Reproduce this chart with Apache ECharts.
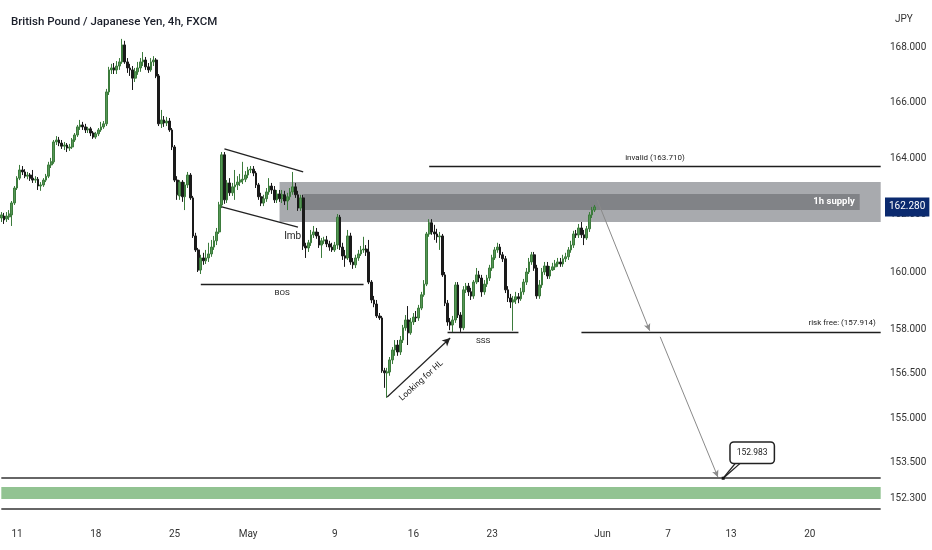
<!DOCTYPE html>
<html><head><meta charset="utf-8">
<script src="https://cdn.jsdelivr.net/npm/echarts@6/dist/echarts.min.js"></script>
<style>html,body{margin:0;padding:0;background:#fff}#c{width:932px;height:550px}</style>
</head><body><div id="c"></div>
<script>
const FONT = "Roboto, 'Liberation Sans', sans-serif";

// 4h candles: [open, close, low, high]
const candles = [
[161.89,162.00,161.75,162.10],[161.96,161.82,161.68,162.07],[161.86,161.96,161.75,162.10],[161.93,162.03,161.82,162.17],
[162.00,162.42,161.61,162.49],[162.42,162.95,162.35,163.02],[162.95,163.30,162.88,163.37],[163.30,163.59,163.23,163.77],
[163.59,163.52,163.41,163.73],[163.52,163.37,163.30,163.62],[163.37,163.41,163.26,163.52],[163.41,163.30,163.20,163.48],
[163.30,163.23,163.13,163.59],[163.23,163.26,163.13,163.37],[163.26,163.02,162.88,163.34],[163.02,163.06,162.85,163.16],
[163.06,163.23,162.99,163.30],[163.23,163.37,163.16,163.45],[163.37,163.77,163.30,163.88],[163.77,163.88,163.66,164.02],
[163.88,164.59,163.81,164.66],[164.59,164.66,164.48,164.80],[164.66,164.55,164.44,164.77],[164.55,164.44,164.34,164.66],
[164.44,164.48,164.30,164.59],[164.48,164.37,164.23,164.55],[164.37,164.41,164.27,164.52],[164.41,164.66,164.34,164.73],
[164.66,164.84,164.59,164.91],[164.84,165.13,164.77,165.20],[165.13,165.20,165.02,165.38],[165.20,165.13,165.02,165.31],
[165.13,165.02,164.91,165.24],[165.02,165.06,164.91,165.13],[165.06,164.91,164.80,165.13],[164.91,164.77,164.70,164.98],
[164.77,164.88,164.70,164.95],[164.88,165.02,164.80,165.09],[165.02,165.13,164.95,165.31],[165.13,165.24,165.06,165.34],
[165.24,166.39,165.16,166.50],[166.39,167.19,166.28,167.30],[167.19,167.26,167.04,167.41],[167.26,167.19,167.04,167.44],
[167.19,167.33,167.04,167.51],[167.33,167.48,167.19,167.62],[167.48,168.10,167.41,168.32],[168.10,167.48,167.41,168.25],
[167.48,167.26,167.08,167.62],[167.26,167.19,166.97,167.41],[167.19,166.89,166.46,167.33],[166.89,167.12,166.75,167.26],
[167.12,167.26,167.01,167.48],[167.26,167.48,167.12,167.62],[167.48,167.55,167.33,167.84],[167.55,167.30,167.19,167.66],
[167.30,167.19,167.08,167.44],[167.19,167.48,167.12,167.62],[167.48,167.55,167.33,167.69],[167.55,166.97,166.89,167.62],
[166.97,165.24,165.16,167.04],[165.24,165.38,165.09,165.74],[165.38,165.27,165.13,165.52],[165.27,165.34,165.16,165.49],
[165.34,165.02,164.95,165.45],[165.02,164.41,164.30,165.09],[164.41,163.23,163.16,164.48],[163.23,162.71,162.53,163.37],
[162.67,163.16,162.53,163.23],[163.16,162.64,162.46,163.23],[162.64,163.06,162.17,163.16],[163.06,163.41,162.95,163.52],
[163.41,162.60,162.53,163.48],[162.60,161.26,161.19,162.67],[161.26,160.77,160.70,161.37],[160.77,160.07,160.00,160.84],
[160.07,160.49,159.93,160.60],[160.49,160.39,160.25,160.67],[160.39,160.49,160.28,160.77],[160.49,160.63,160.35,161.02],
[160.63,160.87,160.53,161.12],[160.87,161.09,160.77,161.26],[161.09,161.40,160.94,161.54],[161.40,162.35,161.33,162.46],
[162.35,164.13,162.24,164.23],[164.13,162.53,162.39,164.23],[162.53,163.13,162.42,163.23],[163.13,162.78,162.67,163.30],
[162.78,162.99,162.67,163.13],[162.99,163.06,162.53,163.59],[163.06,163.16,162.88,163.37],[163.16,163.23,163.02,163.45],
[163.23,163.26,163.09,163.88],[163.26,163.41,163.16,163.55],[163.41,163.59,163.30,163.70],[163.59,163.62,163.48,163.73],
[163.62,163.48,163.37,163.73],[163.48,163.06,162.95,163.55],[163.06,162.64,162.53,163.13],[162.64,162.42,162.31,162.78],
[162.42,162.57,162.31,162.71],[162.57,162.81,162.46,162.95],[162.81,163.02,162.71,163.30],[163.02,162.88,162.74,163.13],
[162.88,162.53,162.42,163.02],[162.53,162.74,162.42,162.88],[162.74,162.57,162.46,162.88],[162.57,162.71,162.42,162.88],
[162.71,162.49,162.35,162.85],[162.49,162.64,162.17,162.78],[162.64,162.81,162.53,162.95],[162.81,162.99,162.71,163.52],
[162.99,162.71,162.60,163.13],[162.71,162.24,162.14,162.85],[162.24,162.60,162.14,162.71],[162.60,160.91,160.77,162.71],
[160.91,160.84,160.49,161.02],[160.84,161.02,160.70,161.12],[161.02,161.30,160.91,161.47],[161.30,161.40,161.19,161.61],
[161.40,161.26,161.16,161.54],[161.26,160.94,160.84,161.40],[160.94,161.09,160.49,161.19],[161.09,161.12,160.98,161.23],
[161.12,160.98,160.87,161.26],[160.98,160.87,160.74,161.09],[160.87,160.77,160.70,161.02],[160.77,160.94,160.70,161.05],
[160.94,161.92,160.80,162.03],[161.92,160.87,160.77,162.00],[160.87,160.56,160.42,161.02],[160.56,160.49,160.18,160.77],
[160.49,161.26,160.42,161.47],[161.26,160.35,160.25,161.37],[160.35,160.25,160.11,160.49],[160.25,160.49,160.14,160.60],
[160.49,160.63,160.39,160.77],[160.63,160.77,160.56,160.91],[160.77,160.80,160.67,161.23],[160.80,160.70,160.56,160.94],
[160.70,159.65,159.58,161.12],[159.65,159.03,158.92,159.72],[159.03,158.89,158.78,159.17],[158.89,158.48,158.41,159.03],
[158.48,158.41,158.34,158.58],[158.41,156.60,156.53,158.48],[156.60,156.53,156.02,156.70],[156.53,156.56,155.68,156.70],
[156.56,156.97,156.43,157.07],[156.97,157.31,156.83,157.41],[157.31,157.48,157.11,157.65],[157.48,157.24,157.11,157.65],
[157.24,157.65,157.14,157.79],[157.65,158.07,157.55,158.17],[158.07,158.34,157.97,158.51],[158.34,157.90,157.48,158.82],
[157.90,158.27,157.83,158.41],[158.27,158.44,158.17,158.58],[158.44,158.41,158.27,158.65],[158.41,158.75,158.31,158.86],
[158.75,159.21,158.68,159.31],[159.21,159.58,159.14,159.72],[159.58,161.33,159.51,161.40],[161.33,161.72,161.23,161.85],
[161.72,161.40,161.30,161.85],[161.40,161.33,161.12,161.65],[161.33,161.23,161.02,161.51],[161.23,161.26,160.77,161.40],
[161.26,159.90,159.83,161.33],[159.90,158.92,158.82,160.00],[158.92,158.27,158.14,159.03],[158.27,158.17,157.99,158.41],
[158.17,158.34,157.93,158.48],[158.34,159.55,158.24,159.65],[159.55,158.51,158.41,159.65],[158.51,158.07,157.93,158.61],
[158.07,159.38,157.99,159.51],[159.38,159.51,159.27,159.62],[159.51,159.31,159.17,159.62],[159.31,159.17,159.03,159.45],
[159.17,159.65,159.07,159.72],[159.65,159.90,159.58,160.14],[159.90,159.79,159.65,160.04],[159.79,159.31,159.14,159.90],
[159.31,159.58,159.21,159.72],[159.58,159.79,159.48,159.90],[159.79,160.14,159.69,160.25],[160.14,160.49,160.04,160.60],
[160.49,160.77,160.42,160.87],[160.77,160.87,160.67,161.02],[160.87,160.60,160.49,160.98],[160.60,160.46,160.35,160.70],
[160.46,159.38,159.27,160.56],[159.38,159.10,158.96,159.51],[159.10,158.96,158.75,159.24],[158.96,159.03,157.97,159.17],
[159.03,159.14,158.89,159.31],[159.14,159.07,158.92,159.27],[159.07,159.31,159.00,159.45],[159.31,159.65,159.21,159.76],
[159.65,160.00,159.55,160.14],[160.00,160.35,159.93,160.49],[160.35,160.60,160.25,160.70],[160.60,160.14,160.04,160.70],
[160.14,159.17,159.07,160.25],[159.17,159.55,159.07,159.72],[159.55,160.00,159.45,160.14],[160.00,160.21,159.90,160.35],
[160.21,159.86,159.76,160.35],[159.86,160.07,159.76,160.21],[160.07,160.18,160.04,160.32],[160.18,160.28,160.07,160.42],
[160.28,160.35,160.18,160.49],[160.35,160.28,160.18,160.49],[160.28,160.46,160.18,160.60],[160.46,160.53,160.35,160.67],
[160.53,160.77,160.42,160.87],[160.77,160.94,160.67,161.09],[160.94,161.33,160.84,161.44],[161.33,161.30,161.19,161.47],
[161.30,161.54,161.19,161.68],[161.54,161.30,161.19,161.75],[161.30,161.19,160.94,161.47],[161.19,161.51,161.12,161.61],
[161.51,162.00,161.40,162.10],[162.00,162.17,161.89,162.28],[162.17,162.28,162.10,162.35]
];

const categoryCount = 336;
const tickIdx  = [6, 36, 66, 94, 127, 157, 187, 229, 254, 278, 308];
const tickText = ['11', '18', '25', 'May', '9', '16', '23', 'Jun', '7', '13', '20'];
const yTicks = [152.3, 153.5, 155, 156.5, 158, 160, 162, 164, 166, 168];
const lastPrice = 162.28;

// annotation levels (price) and spans (candle index)
const supplyOuter = {from: 106, to: 335, low: 161.75, high: 163.16};
const supplyInner = {from: 115, to: 327, low: 162.17, high: 162.74};
const invalidLevel = 163.71, invalidSpan = [163, 335];
const riskFreeLevel = 157.914, riskFreeSpan = [221, 335];
const bosLevel = 159.58, bosSpan = [76, 138];
const sssLevel = 157.91, sssSpan = [170, 197];
const targetLevel = 152.983, targetIdx = 275;
const greenBand = [152.29, 152.69];
const bottomLevel = 151.96;
const channelUpper = [[85, 164.34], [115, 163.52]];
const channelLower = [[84, 162.28], [113, 161.57]];
const hlArrow = [[147, 155.71], [171, 157.72]];
const projection1 = [[227, 162.53], [247, 157.97]];
const projection2 = [[251, 157.76], [273, 153.02]];
const calloutTail = [[280, 153.52], [282, 153.52]];

const categories = Array.from({length: categoryCount}, (_, i) => String(i));
const tickMap = {};
tickIdx.forEach((k, i) => { tickMap[k] = tickText[i]; });

const chart = echarts.init(document.getElementById('c'), null, {renderer: 'canvas'});
const blackLine = {color: '#1e1e1e', width: 1.3, type: 'solid'};
const smallLabel = {show: true, color: '#222', fontSize: 8, fontFamily: FONT};

chart.setOption({
  animation: false,
  backgroundColor: '#ffffff',
  textStyle: {fontFamily: FONT},
  title: [
    {text: 'British Pound / Japanese Yen, 4h, FXCM', left: 6, top: 11,
     textStyle: {fontSize: 11.5, fontWeight: 500, color: '#1b1f2a', fontFamily: FONT}},
    {text: 'JPY', left: 890, top: 9, textStyle: {fontSize: 10, fontWeight: 'normal', color: '#333', fontFamily: FONT}}
  ],
  grid: {left: 0, right: 50, top: 0, bottom: 30},
  xAxis: {
    type: 'category', data: categories, boundaryGap: true,
    axisLine: {show: false}, axisTick: {show: false}, splitLine: {show: false},
    axisLabel: {
      interval: (idx) => tickMap[idx] !== undefined,
      formatter: (v, idx) => tickMap[idx] || '',
      color: '#333', fontSize: 10, margin: 9, fontFamily: FONT
    }
  },
  yAxis: {
    type: 'log', logBase: 10, min: 151.6, max: 169.75, position: 'right',
    axisLine: {show: false}, axisTick: {show: false}, splitLine: {show: false},
    axisLabel: {
      customValues: yTicks,
      formatter: (v) => Number(v).toFixed(3),
      color: '#333', fontSize: 10, margin: 8, fontFamily: FONT
    }
  },
  series: [
    {
      type: 'candlestick', name: 'GBPJPY', data: candles, barWidth: 2.3, z: 2,
      itemStyle: {color: '#569656', color0: '#1a1a1a', borderColor: '#3b7b3b', borderColor0: '#1a1a1a', borderWidth: 1}
    },
    {
      type: 'line', name: 'annotations', data: [], z: 5, silent: true,
      markArea: {
        silent: true,
        data: [
          [{xAxis: supplyOuter.from, yAxis: supplyOuter.high, itemStyle: {color: 'rgba(100,103,110,0.56)'}},
           {xAxis: supplyOuter.to, yAxis: supplyOuter.low}],
          [{xAxis: supplyInner.from, yAxis: supplyInner.high, itemStyle: {color: 'rgba(70,72,78,0.40)'},
            label: {show: true, position: 'insideRight', formatter: '1h supply', color: '#fff', fontWeight: 'bold', fontSize: 9.5, fontFamily: FONT}},
           {xAxis: supplyInner.to, yAxis: supplyInner.low}],
          [{xAxis: 0, yAxis: greenBand[1], itemStyle: {color: '#92c392'}},
           {xAxis: categoryCount - 1, yAxis: greenBand[0]}]
        ]
      },
      markLine: {
        silent: true, symbol: ['none', 'none'], label: {show: false},
        lineStyle: blackLine,
        data: [
          [{coord: [invalidSpan[0], invalidLevel], label: Object.assign({}, smallLabel, {position: 'insideMiddleTop', formatter: 'invalid (163.710)'})},
           {coord: [invalidSpan[1], invalidLevel]}],
          [{coord: [riskFreeSpan[0], riskFreeLevel], label: Object.assign({}, smallLabel, {position: 'insideEndTop', formatter: 'risk free: (157.914)'})},
           {coord: [riskFreeSpan[1], riskFreeLevel]}],
          [{coord: [bosSpan[0], bosLevel], label: Object.assign({}, smallLabel, {position: 'insideMiddleBottom', formatter: 'BOS'})},
           {coord: [bosSpan[1], bosLevel]}],
          [{coord: [sssSpan[0], sssLevel], label: Object.assign({}, smallLabel, {position: 'insideMiddleBottom', formatter: 'SSS'})},
           {coord: [sssSpan[1], sssLevel]}],
          [{coord: [0, targetLevel], lineStyle: {color: '#333', width: 1.5}}, {coord: [categoryCount - 1, targetLevel]}],
          [{coord: [0, bottomLevel], lineStyle: {color: '#333', width: 1.5}}, {coord: [categoryCount - 1, bottomLevel]}],
          [{coord: channelUpper[0], lineStyle: {color: '#222', width: 1.4}}, {coord: channelUpper[1]}],
          [{coord: channelLower[0], lineStyle: {color: '#222', width: 1.4}}, {coord: channelLower[1]}],
          [{coord: hlArrow[0], lineStyle: {color: '#222', width: 1.2}}, {coord: hlArrow[1], symbol: 'arrow', symbolSize: [6, 8]}],
          [{coord: projection1[0], lineStyle: {color: '#8a8a8a', width: 1}}, {coord: projection1[1], symbol: 'arrow', symbolSize: [5, 7]}],
          [{coord: projection2[0], lineStyle: {color: '#8a8a8a', width: 1}}, {coord: projection2[1], symbol: 'arrow', symbolSize: [5, 7]}],
          [{coord: [targetIdx, targetLevel], lineStyle: {color: '#222', width: 1.3}}, {coord: calloutTail[0]}],
          [{coord: [targetIdx, targetLevel], lineStyle: {color: '#222', width: 1.3}}, {coord: calloutTail[1]}],
          {yAxis: lastPrice, lineStyle: {color: 'rgba(0,0,0,0)', width: 0},
           label: {show: true, position: 'end', formatter: '162.280', color: '#fff', backgroundColor: '#0b2a6f',
                   padding: [5, 4, 4, 4], fontSize: 10, fontFamily: FONT, distance: 3}}
        ]
      },
      markPoint: {
        silent: true,
        data: [
          {coord: [111, 161.23], symbol: 'circle', symbolSize: 0,
           label: {show: true, position: 'inside', formatter: 'Imb', color: '#222', fontSize: 10, fontFamily: FONT}},
          {coord: [160, 156.26], symbol: 'circle', symbolSize: 0,
           label: {show: true, position: 'inside', formatter: 'Looking for HL', rotate: 42, color: '#222', fontSize: 8.5, fontFamily: FONT}},
          {coord: [targetIdx, targetLevel], symbol: 'rect', symbolSize: 3, itemStyle: {color: '#111'},
           label: {show: true, position: 'top', offset: [29, -9], formatter: '152.983', color: '#222', fontSize: 8.5, fontFamily: FONT,
                   backgroundColor: '#fff', borderColor: '#222', borderWidth: 1.5, borderRadius: 3, padding: [6, 6, 5, 6]}}
        ]
      }
    }
  ]
});
</script>
</body></html>
